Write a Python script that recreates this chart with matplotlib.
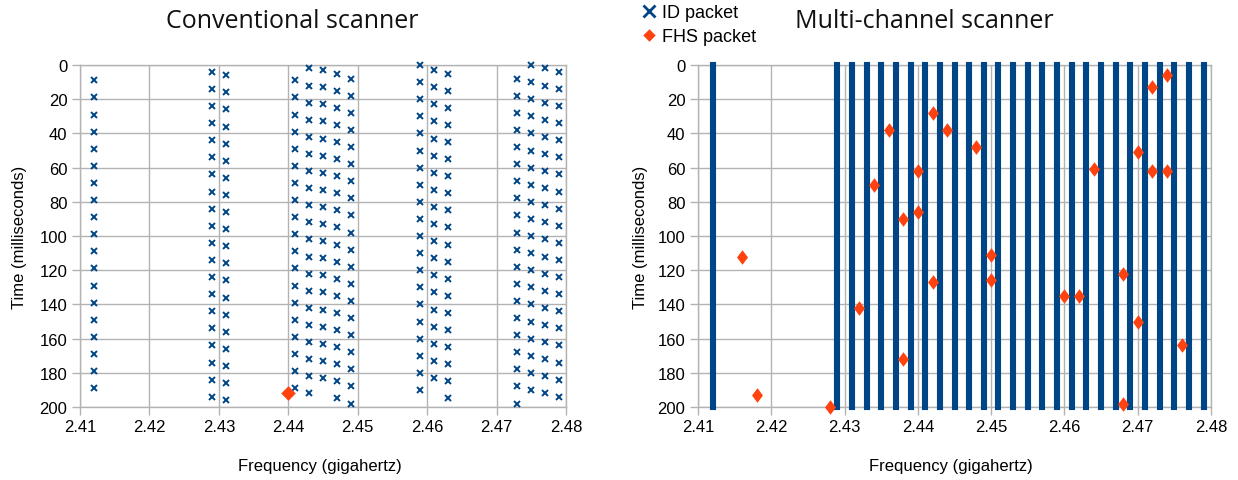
import matplotlib
matplotlib.use("Agg")
import matplotlib.pyplot as plt
from matplotlib.lines import Line2D

# colours used by the original (LibreOffice default palette)
BLUE = "#004586"
ORANGE = "#ff420e"
GRID = "#b3b3b3"

# ---- Conventional scanner: ID packets, one list of times (ms) per channel ----
conv_freq = [2.412, 2.429, 2.431, 2.441, 2.443, 2.445, 2.447, 2.449,
             2.459, 2.461, 2.463, 2.473, 2.475, 2.477, 2.479]
conv_times = [
    [9, 19, 29, 39, 49, 59, 69, 79, 89, 99, 109, 119, 129, 139, 149, 159, 169, 179, 189],
    [4, 14, 24, 34, 44, 54, 64, 74, 84, 94, 104, 114, 124, 134, 144, 154, 164, 174, 184, 194],
    [6, 16, 26, 36, 46, 56, 66, 76, 86, 96, 106, 116, 126, 136, 146, 156, 166, 176, 186, 196],
    [9, 19, 29, 39, 49, 59, 69, 79, 89, 99, 109, 119, 129, 139, 149, 159, 169, 179, 189],
    [2, 12, 22, 32, 42, 52, 62, 72, 82, 92, 102, 112, 122, 132, 142, 152, 162, 172, 182, 192],
    [3, 13, 23, 33, 43, 53, 63, 73, 83, 93, 103, 113, 123, 133, 143, 153, 163, 173, 183],
    [5, 15, 25, 35, 45, 55, 65, 75, 85, 95, 105, 115, 125, 135, 145, 155, 165, 175, 185, 195],
    [8, 18, 28, 38, 48, 58, 68, 78, 88, 98, 108, 118, 128, 138, 148, 158, 168, 178, 188, 198],
    [0, 10, 20, 30, 40, 50, 60, 70, 80, 90, 100, 110, 120, 130, 140, 150, 160, 170, 180, 190],
    [3, 13, 23, 33, 43, 53, 63, 73, 83, 93, 103, 113, 123, 133, 143, 153, 163, 173, 183],
    [5, 15, 25, 35, 45, 55, 65, 75, 85, 95, 105, 115, 125, 135, 145, 155, 165, 175, 185, 195],
    [8, 18, 28, 38, 48, 58, 68, 78, 88, 98, 108, 118, 128, 138, 148, 158, 168, 178, 188, 198],
    [0, 10, 20, 30, 40, 50, 60, 70, 80, 90, 100, 110, 120, 130, 140, 150, 160, 170, 180, 190],
    [2, 12, 22, 32, 42, 52, 62, 72, 82, 92, 102, 112, 122, 132, 142, 152, 162, 172, 182, 192],
    [4, 14, 24, 34, 44, 54, 64, 74, 84, 94, 104, 114, 124, 134, 144, 154, 164, 174, 184, 194],
]
conv_fhs_freq = [2.440]
conv_fhs_time = [192]

# ---- Multi-channel scanner: ID packets seen continuously on these channels ----
multi_freq = [2.412, 2.429, 2.431, 2.433, 2.435, 2.437, 2.439, 2.441, 2.443,
              2.445, 2.447, 2.449, 2.451, 2.453, 2.455, 2.457, 2.459, 2.461,
              2.463, 2.465, 2.467, 2.469, 2.471, 2.473, 2.475, 2.477, 2.479]
multi_first_ms = 0
multi_last_ms = 200
multi_fhs_freq = [2.416, 2.418, 2.428, 2.432, 2.434, 2.436, 2.438, 2.438, 2.440, 2.440,
                  2.442, 2.442, 2.444, 2.448, 2.450, 2.450, 2.460, 2.462, 2.464, 2.468,
                  2.468, 2.470, 2.470, 2.472, 2.472, 2.474, 2.474, 2.476]
multi_fhs_time = [112, 193, 200, 142, 70, 38, 90, 172, 62, 86,
                  28, 127, 38, 48, 111, 126, 135, 135, 61, 122,
                  198, 51, 150, 13, 62, 6, 62, 164]

freq_ticks = [2.41, 2.42, 2.43, 2.44, 2.45, 2.46, 2.47, 2.48]
time_ticks = [0, 20, 40, 60, 80, 100, 120, 140, 160, 180, 200]

plt.rcParams['font.family'] = ['Liberation Sans', 'DejaVu Sans']

W, H = 1238, 481
fig = plt.figure(figsize=(W / 100, H / 100), dpi=100)
ax1 = fig.add_axes([80 / W, 1 - 408 / H, 486 / W, 342 / H])
ax2 = fig.add_axes([698 / W, 1 - 408 / H, 513 / W, 342 / H])

diamond = [(0, 1), (1, 0), (0, -1), (-1, 0), (0, 1)]
tall_diamond = [(0, 1), (0.75, 0), (0, -1), (-0.75, 0), (0, 1)]


def style_axes(ax):
    ax.set_xlim(2.41, 2.48)
    ax.set_ylim(200, 0)
    ax.set_xticks(freq_ticks)
    ax.set_xticklabels(["%.2f" % f for f in freq_ticks])
    ax.set_yticks(time_ticks)
    ax.grid(True, color=GRID, linewidth=1.0)
    ax.set_axisbelow(True)
    for sp in ax.spines.values():
        sp.set_color(GRID)
        sp.set_linewidth(1.0)
    ax.tick_params(length=6, width=1.0, color=GRID, labelsize=12, pad=3,
                   labelcolor="black")


# left chart
xs, ys = [], []
for f, ts in zip(conv_freq, conv_times):
    xs += [f] * len(ts)
    ys += ts
ax1.plot(xs, ys, linestyle="none", marker="x", ms=4.3, mew=1.4,
         color=BLUE, clip_on=False, zorder=3)
ax1.plot(conv_fhs_freq, conv_fhs_time, linestyle="none", marker=diamond, ms=10.5,
         mew=0, color=ORANGE, clip_on=False, zorder=4)
style_axes(ax1)

# right chart
ax2.vlines(multi_freq, multi_first_ms, multi_last_ms, color=BLUE, linewidth=4.4,
           capstyle="projecting", clip_on=False, zorder=3)
ax2.plot(multi_fhs_freq, multi_fhs_time, linestyle="none", marker=tall_diamond,
         ms=10.5, mew=0, color=ORANGE, clip_on=False, zorder=4)
style_axes(ax2)

# titles and axis labels
fig.text(292 / W, 1 - 22 / H, "Conventional scanner", family=["Open Sans", "DejaVu Sans"],
         fontsize=18, ha="center", va="center", color="#111111")
fig.text(924 / W, 1 - 22 / H, "Multi-channel scanner", family=["Open Sans", "DejaVu Sans"],
         fontsize=18, ha="center", va="center", color="#111111")
fig.text(320 / W, 1 - 467 / H, "Frequency (gigahertz)", fontsize=12, ha="center", va="center")
fig.text(951 / W, 1 - 467 / H, "Frequency (gigahertz)", fontsize=12, ha="center", va="center")
fig.text(20 / W, 1 - 237 / H, "Time (milliseconds)", fontsize=12, rotation=90,
         ha="center", va="center")
fig.text(640 / W, 1 - 237 / H, "Time (milliseconds)", fontsize=12, rotation=90,
         ha="center", va="center")

handles = [Line2D([], [], linestyle="none", marker="x", ms=9, mew=2.0, color=BLUE),
           Line2D([], [], linestyle="none", marker=diamond, ms=9, mew=0, color=ORANGE)]
fig.legend(handles, ["ID packet", "FHS packet"], loc="upper left",
           bbox_to_anchor=(642 / W, 1 - 5 / H), frameon=False, fontsize=13,
           handlelength=0.8, handletextpad=0.3, labelspacing=0.4,
           borderpad=0, borderaxespad=0)

fig.savefig("out.png", dpi=100)
